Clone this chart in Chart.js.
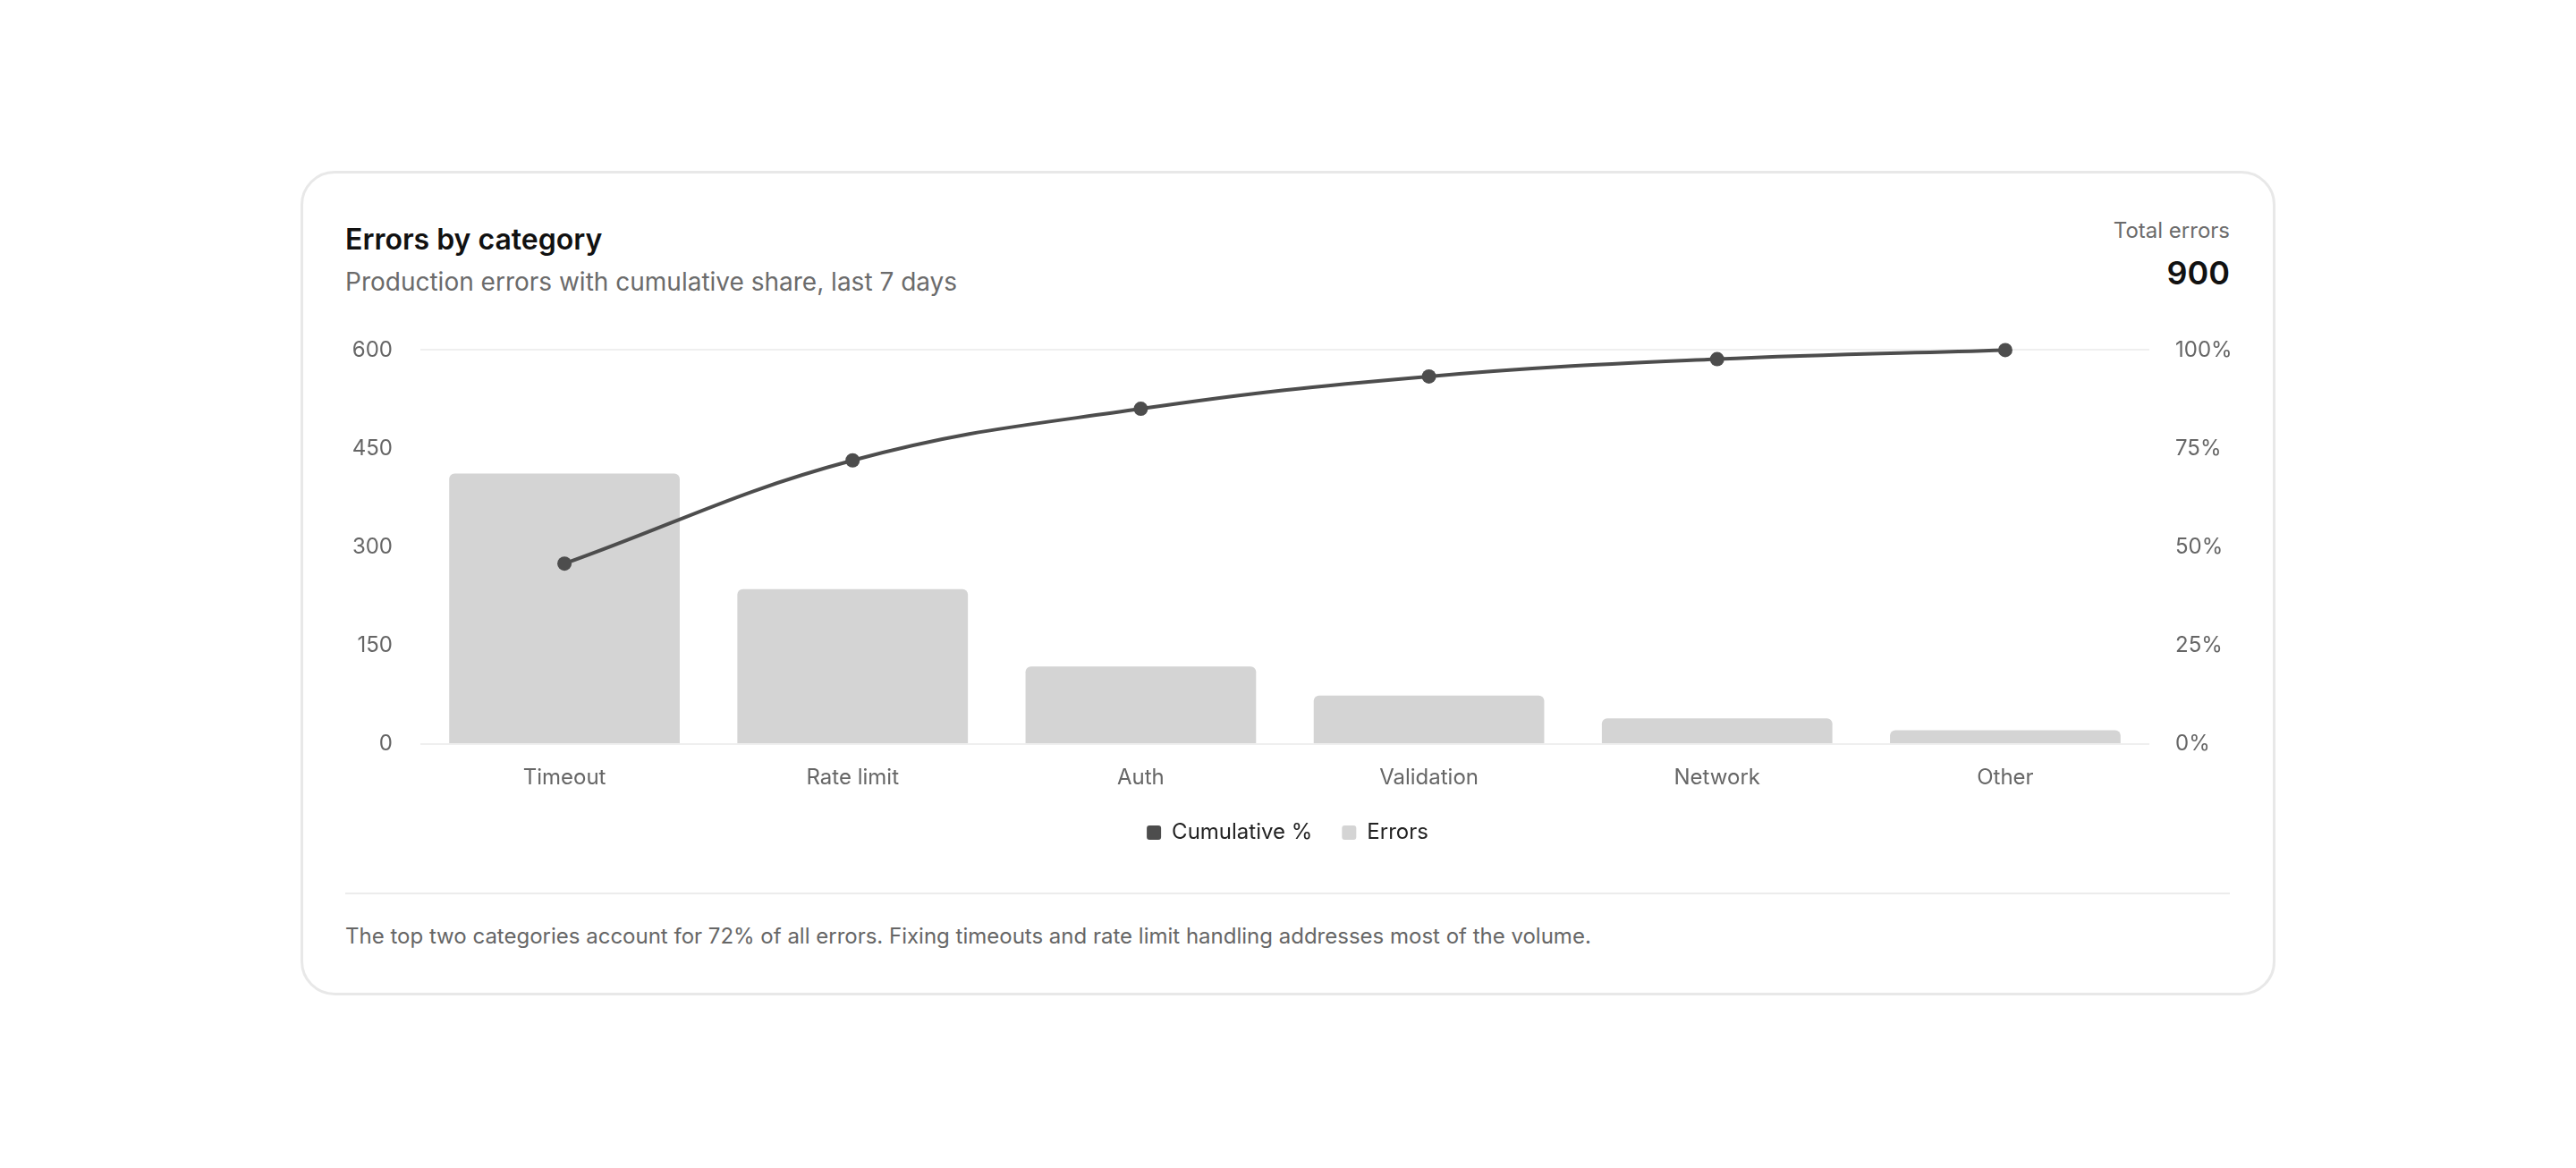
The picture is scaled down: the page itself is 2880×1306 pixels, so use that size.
<!DOCTYPE html>
<html>
<head>
<meta charset="utf-8">
<script src="https://cdn.jsdelivr.net/npm/chart.js@4.4.1/dist/chart.umd.min.js"></script>
<style>
  html, body { margin: 0; padding: 0; background: #ffffff; }
  body { width: 2880px; height: 1306px; position: relative; font-family: Inter, "Noto Sans", sans-serif; }
  .card {
    position: absolute; left: 336px; top: 191px; width: 2208px; height: 922px;
    box-sizing: border-box; border: 3px solid #e8e8e8; border-radius: 38px; background: #fff;
  }
  .title { position: absolute; left: 47px; top: 55px; font-size: 32px; line-height: 38px; font-weight: 600; color: #111; white-space: nowrap; }
  .subtitle { position: absolute; left: 47px; top: 104px; font-size: 28px; line-height: 34px; color: #6b6b6b; white-space: nowrap; }
  .total-label { position: absolute; right: 48px; top: 49px; font-size: 24px; line-height: 29px; color: #6b6b6b; text-align: right; white-space: nowrap; }
  .total-value { position: absolute; right: 48px; top: 89px; font-size: 36px; line-height: 44px; font-weight: 600; color: #111; text-align: right; }
  .chart-box { position: absolute; left: 47px; top: 152px; width: 2107px; height: 607px; }
  .sep { position: absolute; left: 47px; top: 804px; width: 2107px; height: 2px; background: #ececec; }
  .footer { position: absolute; left: 47px; top: 838px; font-size: 24px; line-height: 29px; color: #666; white-space: nowrap; }
</style>
</head>
<body>
<div class="card">
  <div class="title">Errors by category</div>
  <div class="subtitle">Production errors with cumulative share, last 7 days</div>
  <div class="total-label">Total errors</div>
  <div class="total-value">900</div>
  <div class="chart-box"><canvas id="c"></canvas></div>
  <div class="sep"></div>
  <div class="footer">The top two categories account for 72% of all errors. Fixing timeouts and rate limit handling addresses most of the volume.</div>
</div>
<script>
const categories = ["Timeout", "Rate limit", "Auth", "Validation", "Network", "Other"];
const errorCounts = [412, 236, 118, 74, 39, 21];
const cumulativePct = [45.8, 72.0, 85.1, 93.3, 97.7, 100];
const countTicks = [0, 150, 300, 450, 600];
const pctTicks = [0, 25, 50, 75, 100];

Chart.defaults.font.family = "Inter, 'Noto Sans', sans-serif";
Chart.defaults.font.size = 24;
Chart.defaults.color = "#666";

const ctx = document.getElementById("c");
new Chart(ctx, {
  data: {
    labels: categories,
    datasets: [
      {
        type: "line",
        label: "Cumulative %",
        data: cumulativePct,
        yAxisID: "y1",
        borderColor: "#4d4d4d",
        backgroundColor: "#4d4d4d",
        borderWidth: 4,
        tension: 0.4,
        pointRadius: 8,
        pointBorderWidth: 0,
        pointBackgroundColor: "#4d4d4d",
        clip: false,
        order: 0
      },
      {
        type: "bar",
        label: "Errors",
        data: errorCounts,
        yAxisID: "y",
        backgroundColor: "#d4d4d4",
        borderWidth: 0,
        borderRadius: 6,
        borderSkipped: "start",
        categoryPercentage: 0.8,
        barPercentage: 1.0,
        order: 1
      }
    ]
  },
  options: {
    responsive: true,
    maintainAspectRatio: false,
    animation: false,
    layout: { padding: 0 },
    plugins: {
      tooltip: { enabled: false },
      legend: {
        position: "bottom",
        labels: {
          color: "#222",
          font: { size: 24 },
          boxWidth: 16,
          boxHeight: 16,
          padding: 33,
          useBorderRadius: true,
          borderRadius: 3,
          generateLabels(chart) {
            const items = Chart.defaults.plugins.legend.labels.generateLabels(chart);
            items.forEach(it => { it.lineWidth = 0; it.strokeStyle = it.fillStyle; });
            return items;
          }
        }
      }
    },
    scales: {
      x: {
        grid: { display: false, drawTicks: false },
        border: { display: false },
        afterFit(scale) { scale.height = 54; },
        ticks: { padding: 23, color: "#666", font: { size: 24 } }
      },
      y: {
        position: "left",
        min: countTicks[0],
        max: countTicks[countTicks.length - 1],
        afterBuildTicks(scale) { scale.ticks = countTicks.map(v => ({ value: v })); },
        afterFit(scale) { scale.width = 84; },
        grid: {
          drawTicks: false,
          tickLength: 0,
          lineWidth: 2,
          color(c) {
            const v = c.tick ? c.tick.value : null;
            return (v === 0 || v === 600) ? "#efefef" : "rgba(0,0,0,0)";
          }
        },
        border: { display: false },
        ticks: { padding: 31, color: "#666", font: { size: 24 } }
      },
      y1: {
        position: "right",
        min: pctTicks[0],
        max: pctTicks[pctTicks.length - 1],
        afterBuildTicks(scale) { scale.ticks = pctTicks.map(v => ({ value: v })); },
        afterFit(scale) { scale.width = 90; },
        grid: { display: false, drawTicks: false, tickLength: 0 },
        border: { display: false },
        ticks: { padding: 29, color: "#666", font: { size: 24 }, callback: v => v + "%" }
      }
    }
  }
});
</script>
</body>
</html>
